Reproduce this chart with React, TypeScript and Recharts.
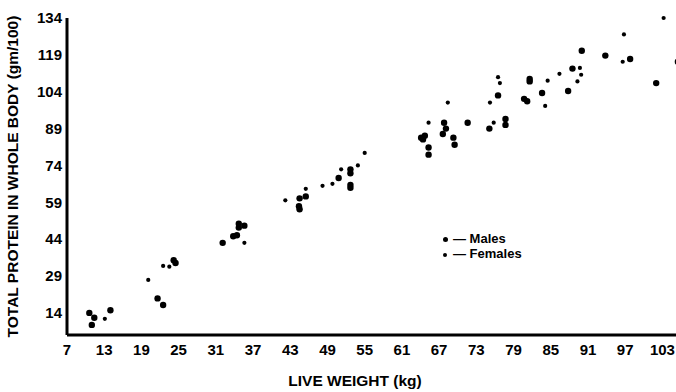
import React from 'react';
import { ScatterChart, Scatter, XAxis, YAxis, Legend } from 'recharts';

// values (live weight kg, protein gm/100)
const maleWeight = [
    10.6, 11.4, 11.0, 14.0, 21.6, 22.5, 24.2, 24.5, 32.1, 33.8, 34.4, 34.7, 34.7, 35.6,
    44.5, 44.4, 44.5, 45.5, 50.8, 52.7, 52.7, 52.7, 52.7, 64.1, 64.4, 64.7, 65.3, 65.3,
    67.6, 67.8, 68.1, 69.3, 69.5, 71.6, 75.1, 76.5, 77.7, 77.7, 80.7, 81.2, 81.6, 81.6,
    83.6, 87.8, 88.5, 90.0, 93.8, 97.8, 102.0, 105.5,
];
const maleProtein = [
    14.0, 12.0, 9.1, 15.1, 19.9, 17.2, 35.4, 34.3, 42.5, 45.2, 45.6, 50.3, 48.7, 49.5,
    60.6, 57.4, 56.2, 61.4, 68.9, 72.4, 70.8, 66.1, 64.9, 85.3, 84.6, 86.1, 81.3, 78.4,
    86.8, 91.4, 89.0, 85.3, 82.4, 91.4, 89.0, 102.5, 92.9, 90.5, 101.1, 100.1, 109.2, 108.2,
    103.5, 104.3, 113.4, 120.7, 118.7, 117.3, 107.5, 116.2,
];
const femaleWeight = [
    13.1, 20.1, 22.5, 23.5, 35.6, 42.2, 45.5, 48.2, 49.8, 51.2, 53.9, 55.0, 65.3, 68.4,
    75.2, 75.8, 76.5, 76.8, 84.1, 84.5, 86.4, 89.3, 89.7, 89.9, 96.8, 96.6, 103.2,
];
const femaleProtein = [
    11.6, 27.4, 33.1, 32.8, 42.5, 59.8, 64.5, 65.7, 66.5, 72.4, 74.0, 79.1, 91.4, 99.6,
    99.6, 91.4, 109.9, 107.5, 98.2, 108.5, 111.3, 108.2, 113.7, 110.9, 127.3, 116.2, 134.0,
];

const xTicks = [7, 13, 19, 25, 31, 37, 43, 49, 55, 61, 67, 73, 79, 85, 91, 97, 103];
const yTicks = [14, 29, 44, 59, 74, 89, 104, 119, 134];

const males = maleWeight.map((w, i) => ({ w, p: maleProtein[i] }));
const females = femaleWeight.map((w, i) => ({ w, p: femaleProtein[i] }));

const FONT = '"Liberation Sans", Arial, sans-serif';
const tickStyle = { fill: '#000', fontSize: 15, fontWeight: 700, fontFamily: FONT };
const titleStyle = { fill: '#000', fontSize: 15.5, fontWeight: 700, fontFamily: FONT };

const bigDot = (props: any) => <circle cx={props.cx} cy={props.cy} r={3.2} fill="#000" />;
const smallDot = (props: any) => <circle cx={props.cx} cy={props.cy} r={2.1} fill="#000" />;

const renderLegend = () => (
    <div style={{ fontFamily: FONT, fontWeight: 700, fontSize: 13, lineHeight: '15px', color: '#000' }}>
        <div>
            <span style={{ display: 'inline-block', width: 5, height: 5, borderRadius: 3, background: '#000', marginRight: 5, verticalAlign: 'middle' }} />
            — Males
        </div>
        <div>
            <span style={{ display: 'inline-block', width: 4, height: 4, borderRadius: 2, background: '#000', marginRight: 6, verticalAlign: 'middle' }} />
            — Females
        </div>
    </div>
);

export default function App() {
    return (
        <div style={{ position: 'absolute', left: 0, top: 0, background: '#fff' }}>
            <ScatterChart width={682} height={392} margin={{ top: 18, right: 1, bottom: 0, left: 0 }}>
                <XAxis
                    type="number"
                    dataKey="w"
                    domain={[7, 106]}
                    ticks={xTicks}
                    interval={0}
                    tickLine={false}
                    tickSize={0}
                    tickMargin={9}
                    height={57}
                    axisLine={{ stroke: '#000', strokeWidth: 3 }}
                    tick={tickStyle}
                    label={{
                        value: 'LIVE WEIGHT (kg)',
                        position: 'insideBottom',
                        offset: 6,
                        dx: -19,
                        style: titleStyle,
                    }}
                />
                <YAxis
                    type="number"
                    dataKey="p"
                    domain={[5, 134]}
                    ticks={yTicks}
                    interval={0}
                    width={67}
                    tickLine={false}
                    tickSize={0}
                    tickMargin={5}
                    axisLine={{ stroke: '#000', strokeWidth: 3 }}
                    tick={tickStyle}
                    label={{
                        value: 'TOTAL PROTEIN IN WHOLE BODY (gm/100)',
                        angle: -90,
                        position: 'insideLeft',
                        offset: 12,
                        dy: 0,
                        style: { ...titleStyle, textAnchor: 'middle' },
                    }}
                />
                <Legend
                    layout="vertical"
                    align="center"
                    verticalAlign="middle"
                    content={renderLegend}
                    wrapperStyle={{ position: 'absolute', left: 443, top: 231, width: 120 }}
                />
                <Scatter name="Males" data={males} shape={bigDot} isAnimationActive={false} />
                <Scatter name="Females" data={females} shape={smallDot} isAnimationActive={false} />
            </ScatterChart>
        </div>
    );
}
